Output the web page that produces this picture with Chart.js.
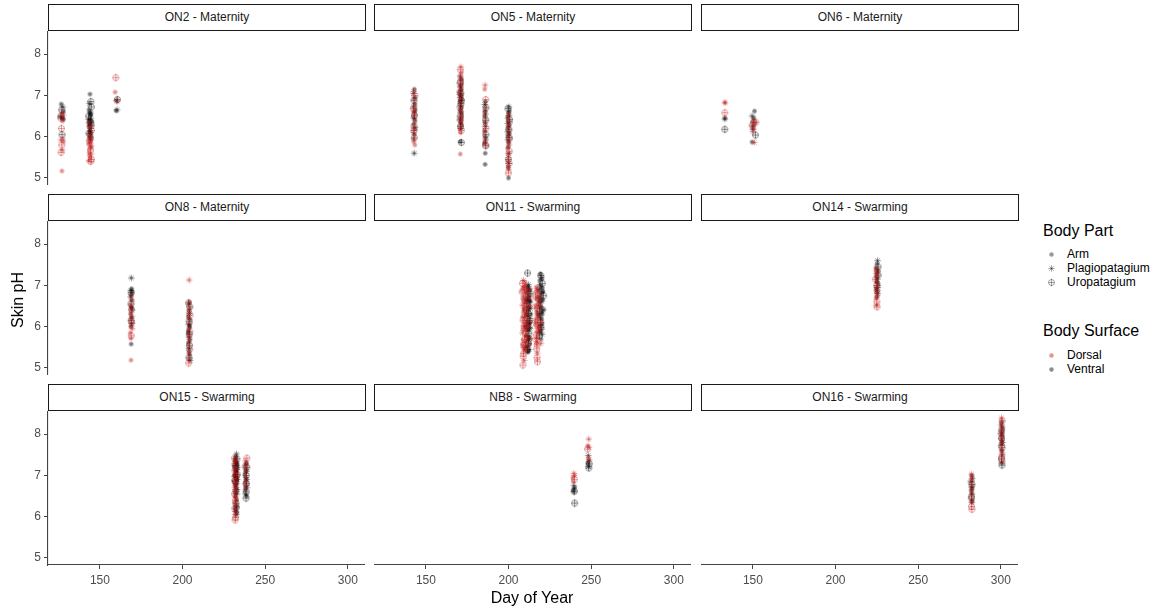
<!DOCTYPE html>
<html><head><meta charset="utf-8">
<script src="https://cdn.jsdelivr.net/npm/chart.js@4.4.1/dist/chart.umd.min.js"></script>
<style>
html,body{margin:0;padding:0;background:#fff;}
body{width:1162px;height:613px;position:relative;overflow:hidden;font-family:"Liberation Sans",Arial,sans-serif;}
.strip{position:absolute;box-sizing:border-box;border:1.6px solid #1a1a1a;background:#fff;color:#1a1a1a;font-size:12px;text-align:center;}
canvas.p{position:absolute;}
.t{position:absolute;white-space:nowrap;color:#000;}
.lg{position:absolute;white-space:nowrap;font-size:12px;color:#000;}
</style></head><body>
<script>
// ---------- data ----------
const panelTitles = ['ON2 - Maternity','ON5 - Maternity','ON6 - Maternity','ON8 - Maternity','ON11 - Swarming','ON14 - Swarming','ON15 - Swarming','NB8 - Swarming','ON16 - Swarming'];
const xTicks = [150,200,250,300];
const yTicks = [5,6,7,8];
const xRange = [118.6,310.4];
const yRange = [4.83,8.56];
const partNames = {A:'Arm',P:'Plagiopatagium',U:'Uropatagium'};
const surfaceNames = ['Dorsal','Ventral'];

const on2D = [[127.0,6.58,'A'],[127.8,6.52,'P'],[126.3,6.45,'U'],[127.4,6.38,'A'],[126.7,6.2,'U'],[127.6,5.95,'A'],[126.4,5.92,'P'],[127.9,5.88,'A'],[126.9,5.8,'U'],[127.2,5.68,'P'],[126.5,5.62,'U'],[127.0,5.17,'A'],
[143.2,6.35,'A'],[144.6,6.25,'P'],[143.8,6.22,'A'],[144.9,6.15,'U'],[143.4,6.05,'A'],[144.2,5.98,'P'],[145.0,5.95,'A'],[143.6,5.9,'U'],[144.4,5.85,'A'],[143.1,5.82,'A'],[144.8,5.78,'P'],[143.9,5.72,'A'],[144.3,5.68,'U'],[143.5,5.62,'A'],[144.7,5.58,'P'],[143.7,5.55,'A'],[144.1,5.5,'A'],[144.9,5.45,'U'],[143.3,5.42,'P'],[144.5,5.4,'U'],[143.8,5.88,'A'],[144.6,5.75,'A'],
[159.6,7.43,'U'],[159.2,7.08,'A'],[160.4,6.85,'P']];
const on2V = [[126.6,6.79,'A'],[127.6,6.72,'P'],[126.9,6.65,'U'],[127.9,6.6,'A'],[126.3,6.48,'P'],[127.3,6.45,'A'],[128.0,6.42,'A'],[127.1,6.05,'U'],[126.5,6.5,'U'],
[144.0,7.03,'A'],[144.5,6.85,'U'],[143.6,6.8,'P'],[144.8,6.72,'U'],[143.4,6.65,'A'],[144.2,6.6,'P'],[143.8,6.57,'A'],[144.6,6.55,'A'],[143.2,6.5,'U'],[144.4,6.45,'P'],[143.7,6.4,'A'],[144.9,6.38,'A'],[143.5,6.33,'P'],[144.1,6.3,'A'],[144.7,6.28,'U'],[143.3,6.25,'A'],[144.3,6.2,'P'],[143.9,6.15,'A'],[144.6,6.1,'A'],[143.4,6.08,'U'],[144.0,6.05,'P'],[144.8,6.0,'A'],[143.6,5.97,'A'],[144.2,5.92,'P'],[143.8,6.12,'A'],[144.5,6.35,'U'],[143.2,6.42,'P'],[144.3,6.52,'A'],
[160.6,6.9,'U'],[160.0,6.88,'P'],[159.8,6.63,'A'],[160.4,6.65,'P']];

const on5D = [[142.6,7.1,'P'],[143.3,7.0,'U'],[142.9,6.9,'A'],[143.5,6.75,'A'],[142.4,6.68,'U'],[143.1,6.55,'A'],[142.7,6.48,'P'],[143.4,6.35,'A'],[142.8,6.25,'U'],[143.2,6.18,'A'],[142.5,6.1,'P'],[143.0,5.98,'U'],[142.7,5.88,'A'],[143.3,5.8,'A'],[142.9,6.6,'P'],
[171.2,7.69,'P'],[170.8,7.62,'U'],[171.5,7.55,'A'],[170.6,7.48,'P'],[171.3,7.4,'A'],[170.9,7.35,'U'],[171.6,7.28,'A'],[170.7,7.22,'P'],[171.1,7.12,'A'],[170.5,7.08,'U'],[171.4,6.98,'A'],[170.8,6.92,'P'],[171.2,6.82,'A'],[170.6,6.72,'U'],[171.5,6.62,'A'],[170.9,6.58,'P'],[171.3,6.48,'A'],[170.7,6.42,'U'],[171.6,6.38,'A'],[171.0,6.28,'P'],[170.6,6.2,'A'],[171.4,6.15,'U'],[170.9,6.1,'A'],[170.8,5.58,'A'],
[185.8,7.25,'P'],[185.6,7.15,'A'],[186.2,6.9,'U'],[185.5,6.6,'A'],[186.0,6.45,'P'],[185.7,6.3,'A'],[186.3,6.2,'U'],[185.4,6.1,'A'],[186.1,5.95,'P'],[185.6,5.85,'A'],[186.2,5.8,'U'],[185.9,6.7,'A'],
[200.1,6.55,'A'],[199.6,6.45,'P'],[200.5,6.35,'U'],[199.8,6.25,'A'],[200.3,6.15,'P'],[199.5,6.05,'A'],[200.6,5.95,'U'],[199.9,5.88,'A'],[200.2,5.8,'P'],[199.4,5.72,'A'],[200.4,5.65,'U'],[199.7,5.58,'A'],[200.0,5.5,'P'],[199.6,5.42,'A'],[200.3,5.35,'U'],[199.8,5.28,'A'],[200.1,5.2,'P'],[199.9,5.12,'U']];
const on5V = [[143.0,7.15,'A'],[142.6,7.05,'P'],[143.4,6.95,'A'],[142.8,6.88,'U'],[143.2,6.8,'A'],[142.5,6.72,'P'],[143.5,6.65,'A'],[142.9,6.6,'A'],[143.1,6.52,'U'],[142.7,6.45,'P'],[143.3,6.4,'A'],[142.6,6.3,'A'],[143.4,6.22,'P'],[142.8,6.15,'U'],[143.0,6.05,'A'],[142.7,5.95,'P'],[142.9,5.6,'P'],
[171.0,7.45,'P'],[171.4,7.38,'A'],[170.7,7.3,'U'],[171.2,7.25,'A'],[170.9,7.2,'P'],[171.5,7.15,'A'],[170.6,7.1,'A'],[171.1,7.05,'U'],[171.3,7.0,'A'],[170.8,6.95,'P'],[171.6,6.9,'A'],[170.7,6.85,'A'],[171.2,6.8,'U'],[170.9,6.75,'P'],[171.4,6.7,'A'],[170.6,6.65,'A'],[171.1,6.6,'P'],[171.5,6.55,'A'],[170.8,6.5,'U'],[171.3,6.45,'A'],[170.7,6.4,'P'],[171.0,6.35,'A'],[171.4,6.3,'A'],[170.9,6.25,'U'],[171.2,6.2,'P'],[170.8,5.88,'A'],[171.4,5.86,'U'],[170.6,7.02,'P'],[171.5,6.88,'U'],
[186.0,6.85,'A'],[185.6,6.78,'P'],[186.3,6.7,'U'],[185.8,6.62,'A'],[186.1,6.55,'P'],[185.5,6.5,'A'],[186.2,6.4,'U'],[185.7,6.35,'A'],[186.0,6.25,'P'],[185.6,6.15,'A'],[186.3,6.05,'U'],[185.8,6.0,'A'],[186.1,5.92,'P'],[185.5,5.85,'A'],[186.2,5.78,'U'],[185.9,5.6,'A'],[185.8,5.33,'A'],
[200.2,6.72,'P'],[199.7,6.68,'U'],[200.5,6.62,'A'],[199.9,6.58,'A'],[200.3,6.52,'P'],[199.5,6.48,'A'],[200.6,6.42,'U'],[200.0,6.38,'A'],[199.6,6.32,'P'],[200.4,6.28,'A'],[199.8,6.22,'A'],[200.2,6.18,'U'],[199.5,6.12,'P'],[200.5,6.08,'A'],[199.9,6.02,'A'],[200.3,5.98,'U'],[199.7,5.92,'P'],[200.1,5.85,'A'],[199.8,5.75,'A'],[200.2,5.6,'P'],[199.9,5.45,'U'],[200.1,5.35,'P'],[199.8,5.25,'A'],[200.0,5.0,'A']];

const on6D = [[133.0,6.83,'A'],[133.2,6.82,'P'],[133.0,6.58,'U'],[150.0,6.38,'A'],[151.0,6.33,'P'],[149.5,6.28,'U'],[150.5,6.2,'A'],[150.0,6.12,'P'],[150.8,5.86,'P'],[151.8,6.35,'U']];
const on6V = [[133.1,6.45,'A'],[133.0,6.43,'P'],[133.0,6.18,'U'],[151.0,6.62,'A'],[149.5,6.5,'P'],[150.5,6.45,'A'],[149.8,6.25,'P'],[150.0,6.18,'P'],[151.5,6.04,'U'],[149.5,5.87,'A'],[150.5,6.35,'U']];

const on8D = [[168.8,6.75,'A'],[169.3,6.62,'P'],[168.5,6.52,'A'],[169.1,6.42,'U'],[168.7,6.35,'A'],[169.4,6.25,'P'],[168.6,6.18,'A'],[169.2,6.1,'U'],[168.9,6.02,'A'],[169.5,5.95,'P'],[168.4,5.85,'A'],[169.0,5.78,'U'],[168.7,5.72,'A'],[168.8,5.19,'A'],
[204.0,7.13,'P'],[203.6,6.58,'U'],[204.3,6.45,'A'],[203.8,6.35,'P'],[204.5,6.28,'U'],[203.5,6.2,'A'],[204.1,6.08,'P'],[203.7,5.95,'A'],[204.4,5.88,'U'],[203.9,5.78,'A'],[204.2,5.7,'P'],[203.6,5.58,'A'],[204.3,5.45,'U'],[203.8,5.35,'A'],[204.0,5.22,'P'],[203.7,5.12,'U']];
const on8V = [[169.0,7.18,'P'],[169.2,6.92,'A'],[168.7,6.88,'P'],[169.4,6.85,'A'],[168.9,6.82,'U'],[169.1,6.78,'A'],[168.6,6.72,'P'],[169.3,6.65,'A'],[168.8,6.55,'U'],[169.0,6.48,'A'],[169.4,6.4,'P'],[168.7,6.3,'A'],[169.2,6.22,'A'],[168.9,6.15,'U'],[169.3,6.08,'P'],[168.8,6.0,'A'],[168.9,5.58,'A'],[169.1,6.45,'A'],
[204.1,6.6,'A'],[203.7,6.55,'P'],[204.4,6.48,'U'],[203.9,6.4,'A'],[204.2,6.32,'P'],[203.6,6.25,'A'],[204.5,6.18,'A'],[204.0,6.12,'U'],[203.8,6.05,'P'],[204.3,5.98,'A'],[203.5,5.9,'A'],[204.1,5.82,'U'],[203.9,5.75,'P'],[204.4,5.68,'A'],[203.7,5.62,'A'],[204.2,5.55,'U'],[203.8,5.48,'P'],[204.0,5.4,'A'],[204.3,5.32,'A'],[203.9,5.25,'U'],[204.5,5.18,'P'],[204.2,6.02,'A'],[203.6,5.85,'A']];

const on11D = [[209.0,7.12,'P'],[208.4,7.05,'U'],[210.2,7.0,'A'],[208.8,6.95,'A'],[209.6,6.9,'P'],[208.2,6.84,'U'],[210.5,6.8,'A'],[209.1,6.74,'P'],[208.6,6.68,'A'],[209.9,6.62,'U'],[211.0,6.57,'A'],[208.3,6.52,'P'],[209.4,6.46,'A'],[210.6,6.41,'U'],[208.9,6.35,'A'],[209.8,6.3,'P'],[208.5,6.24,'A'],[211.3,6.19,'U'],[209.2,6.13,'A'],[210.1,6.08,'P'],[208.7,6.02,'A'],[209.5,5.96,'U'],[210.8,5.91,'A'],[208.4,5.85,'P'],[209.9,5.8,'A'],[211.5,5.74,'U'],[208.8,5.68,'A'],[210.3,5.62,'P'],[209.3,5.56,'U'],[208.6,5.5,'A'],[210.0,5.44,'P'],[209.1,5.36,'U'],[208.9,5.28,'U'],[209.4,5.18,'P'],[208.7,5.07,'U'],[212.5,6.9,'P'],[213.2,6.5,'A'],[212.0,6.1,'U'],[213.6,5.7,'A'],[212.7,6.7,'A'],
[209.7,6.98,'A'],[208.9,6.88,'U'],[210.4,6.71,'P'],[209.3,6.6,'A'],[210.9,6.33,'A'],[209.6,6.22,'P'],[208.8,6.16,'U'],[210.5,5.99,'A'],[209.0,5.92,'P'],[210.6,5.77,'A'],[209.7,5.7,'U'],[208.5,5.58,'A'],[210.2,5.52,'P'],[209.6,5.42,'A'],[210.8,6.5,'U'],[209.2,6.42,'A'],[211.8,6.0,'P'],[212.2,5.55,'A'],[211.4,6.85,'U'],[210.0,7.08,'A'],
[217.2,6.92,'P'],[216.5,6.84,'A'],[217.8,6.76,'U'],[216.8,6.68,'A'],[218.5,6.6,'P'],[216.3,6.52,'A'],[217.5,6.44,'U'],[216.9,6.36,'A'],[218.2,6.28,'P'],[216.6,6.2,'A'],[217.4,6.12,'U'],[216.2,6.04,'A'],[218.0,5.96,'P'],[217.1,5.88,'A'],[216.7,5.8,'U'],[217.6,5.72,'A'],[216.9,5.64,'P'],[217.3,5.56,'U'],[217.0,5.46,'U'],[217.4,5.36,'P'],[217.2,5.25,'U'],[217.5,5.15,'U'],[219.5,6.5,'A'],[220.0,6.1,'P'],[219.0,5.9,'A'],
[216.8,6.96,'A'],[217.6,6.88,'P'],[216.4,6.72,'U'],[217.9,6.55,'A'],[216.7,6.46,'P'],[217.2,6.3,'A'],[217.8,6.16,'U'],[216.5,6.1,'P'],[217.3,5.98,'A'],[217.9,5.84,'A'],[216.6,5.72,'P'],[217.1,5.6,'A'],[218.6,6.7,'U'],[218.8,6.02,'A'],[219.6,5.6,'P']];
const on11V = [[211.5,7.3,'U'],[211.8,6.98,'A'],[212.6,6.92,'P'],[211.2,6.86,'A'],[213.0,6.8,'U'],[212.2,6.74,'A'],[211.6,6.68,'P'],[212.9,6.62,'A'],[211.0,6.56,'U'],[212.4,6.5,'A'],[213.3,6.44,'P'],[211.7,6.38,'A'],[212.1,6.32,'U'],[210.8,6.26,'A'],[212.8,6.2,'P'],[211.4,6.14,'A'],[212.5,6.08,'A'],[211.1,6.02,'U'],[213.1,5.96,'P'],[211.9,5.9,'A'],[212.3,5.84,'U'],[210.9,5.78,'A'],[212.7,5.72,'P'],[211.5,5.66,'A'],[212.0,5.6,'U'],[211.2,5.52,'A'],[212.4,5.45,'P'],[211.7,5.38,'A'],[210.5,6.65,'P'],[210.3,6.0,'A'],[213.5,6.3,'A'],[210.6,5.5,'P'],
[212.0,7.02,'P'],[211.4,6.95,'A'],[212.8,6.88,'A'],[211.9,6.79,'U'],[212.5,6.65,'A'],[211.3,6.6,'P'],[212.1,6.45,'A'],[211.6,6.28,'P'],[212.9,6.15,'U'],[211.8,6.05,'A'],[212.6,5.98,'P'],[211.3,5.92,'A'],[212.2,5.76,'A'],[211.9,5.69,'P'],[212.7,5.58,'A'],[211.4,5.45,'U'],[212.1,5.41,'A'],[213.0,6.1,'A'],[210.7,6.4,'U'],[213.2,6.6,'P'],
[219.2,7.28,'A'],[219.8,7.2,'P'],[218.9,7.12,'A'],[220.4,7.05,'U'],[219.5,6.98,'A'],[218.6,6.9,'P'],[220.1,6.82,'A'],[219.0,6.74,'U'],[220.6,6.66,'A'],[219.3,6.58,'P'],[218.8,6.5,'A'],[220.3,6.42,'U'],[219.7,6.34,'A'],[218.5,6.26,'P'],[220.0,6.18,'A'],[219.4,6.1,'U'],[221.0,6.4,'P'],[218.9,6.02,'A'],[219.9,5.94,'P'],[219.2,5.86,'A'],[218.7,5.78,'U'],[219.6,5.7,'A'],[220.8,6.85,'A'],[218.3,6.62,'P'],[221.2,6.75,'U'],[218.0,6.3,'A'],
[219.5,7.24,'U'],[220.2,7.15,'A'],[219.1,7.02,'P'],[220.5,6.94,'A'],[219.7,6.86,'U'],[219.0,6.7,'A'],[220.2,6.62,'P'],[219.5,6.46,'A'],[218.8,6.38,'U'],[220.4,6.3,'A'],[219.3,6.22,'P'],[220.1,6.05,'A'],[219.6,5.98,'U'],[218.9,5.9,'A'],[220.3,5.82,'P']];

const on14D = [[224.3,7.42,'A'],[225.2,7.35,'U'],[224.6,7.28,'P'],[225.5,7.22,'A'],[224.1,7.15,'U'],[224.9,7.08,'A'],[225.6,7.0,'P'],[224.4,6.95,'A'],[225.1,6.88,'U'],[224.7,6.82,'A'],[225.3,6.75,'P'],[224.5,6.68,'A'],[225.0,6.6,'U'],[224.8,6.52,'P'],[225.1,6.48,'U']];
const on14V = [[225.4,7.6,'P'],[225.1,7.52,'A'],[225.7,7.45,'U'],[224.9,7.4,'A'],[225.5,7.35,'P'],[225.0,7.3,'A'],[225.8,7.25,'U'],[224.7,7.2,'A'],[225.3,7.15,'P'],[224.9,7.1,'A'],[225.6,7.05,'A'],[225.0,7.0,'U'],[225.4,6.95,'P'],[224.8,6.9,'A'],[225.2,6.85,'A'],[225.5,6.8,'P'],[225.0,6.72,'A']];

const on15D = [[231.4,7.42,'U'],[232.0,7.36,'A'],[231.2,7.28,'P'],[232.6,7.2,'A'],[231.7,7.12,'U'],[232.3,7.05,'A'],[231.3,6.98,'P'],[232.8,6.92,'A'],[231.9,6.85,'U'],[232.4,6.78,'A'],[231.6,6.7,'P'],[232.1,6.62,'A'],[231.5,6.55,'U'],[232.5,6.45,'A'],[231.8,6.35,'P'],[232.2,6.28,'A'],[231.6,6.2,'U'],[232.4,6.12,'A'],[231.9,6.05,'P'],[232.1,5.98,'U'],[231.8,5.92,'U'],
[232.2,7.33,'P'],[231.8,7.16,'A'],[232.6,7.0,'U'],[231.5,6.82,'A'],[232.3,6.66,'P'],[231.7,6.5,'A'],[232.0,6.4,'U'],
[238.9,7.42,'U'],[238.2,7.35,'P'],[238.7,7.28,'A'],[237.9,7.2,'U'],[238.5,7.12,'A'],[238.1,7.0,'P'],[238.8,6.9,'A'],[238.3,6.8,'U'],[238.0,6.7,'A']];
const on15V = [[232.6,7.52,'P'],[232.2,7.45,'A'],[232.9,7.4,'U'],[231.8,7.35,'A'],[232.5,7.3,'P'],[233.0,7.26,'A'],[231.6,7.22,'A'],[232.3,7.18,'U'],[232.8,7.14,'P'],[231.9,7.1,'A'],[232.6,7.06,'A'],[233.1,7.02,'U'],[231.7,6.98,'P'],[232.4,6.94,'A'],[232.9,6.9,'A'],[232.0,6.85,'U'],[232.7,6.8,'P'],[231.8,6.75,'A'],[232.5,6.7,'A'],[232.2,6.62,'U'],[232.8,6.55,'P'],[232.0,6.48,'A'],[232.6,6.4,'A'],[232.3,6.32,'U'],[232.7,6.25,'P'],[232.1,6.18,'A'],[232.9,6.1,'A'],[232.5,6.05,'P'],[233.2,7.2,'P'],[231.5,7.0,'A'],[233.0,6.9,'P'],
[232.0,7.4,'P'],[232.7,7.32,'A'],[231.9,7.24,'U'],[232.4,7.12,'A'],[232.1,7.03,'P'],[232.8,6.96,'A'],[231.6,6.88,'U'],[232.3,6.78,'A'],[232.9,6.66,'P'],[232.1,6.58,'A'],[232.5,6.22,'U'],[231.9,6.13,'P'],
[238.6,7.3,'A'],[238.0,7.25,'P'],[238.9,7.2,'U'],[238.3,7.15,'A'],[238.7,7.1,'P'],[237.9,7.05,'A'],[238.5,7.0,'U'],[238.2,6.95,'A'],[238.8,6.9,'P'],[238.1,6.85,'A'],[238.6,6.8,'U'],[238.3,6.75,'A'],[238.9,6.7,'P'],[238.0,6.65,'A'],[238.5,6.6,'U'],[238.2,6.55,'P'],[238.7,6.5,'A'],[238.4,6.45,'U']];

const nb8D = [[239.5,7.05,'P'],[240.0,7.0,'P'],[239.0,6.95,'A'],[239.8,6.9,'U'],[239.3,6.85,'A'],
[248.5,7.88,'P'],[248.0,7.72,'A'],[248.6,7.68,'P'],[247.8,7.64,'U'],[248.3,7.42,'A'],[248.8,7.38,'P']];
const nb8V = [[239.5,6.75,'P'],[240.0,6.7,'A'],[239.2,6.65,'A'],[239.8,6.62,'U'],[239.5,6.6,'P'],[240.0,6.33,'U'],
[248.2,7.48,'P'],[248.5,7.35,'A'],[248.0,7.3,'A'],[248.8,7.28,'U'],[248.3,7.22,'P'],[248.6,7.18,'U']];

const on16D = [[282.2,7.03,'P'],[282.6,6.95,'A'],[282.0,6.85,'U'],[282.7,6.75,'A'],[282.3,6.65,'P'],[282.5,6.55,'A'],[282.1,6.45,'U'],[282.6,6.35,'A'],[282.3,6.25,'U'],[282.5,6.18,'U'],
[300.4,8.39,'P'],[300.8,8.32,'U'],[300.3,8.25,'A'],[300.9,8.18,'P'],[300.5,8.1,'A'],[300.2,8.02,'U'],[300.7,7.95,'A'],[300.4,7.88,'P'],[300.9,7.8,'A'],[300.3,7.72,'U'],[300.6,7.62,'A'],[300.8,7.55,'P'],[300.5,7.45,'U'],[300.7,7.35,'U']];
const on16V = [[282.4,7.0,'A'],[282.7,6.92,'P'],[282.1,6.85,'A'],[282.5,6.78,'U'],[282.3,6.72,'P'],[282.6,6.68,'A'],[282.2,6.62,'A'],[282.5,6.55,'P'],[282.3,6.48,'U'],[282.6,6.4,'A'],[282.4,6.35,'P'],
[300.6,8.3,'A'],[300.3,8.22,'P'],[300.9,8.15,'A'],[300.5,8.1,'U'],[300.7,8.05,'A'],[300.2,8.0,'P'],[300.8,7.95,'A'],[300.4,7.9,'U'],[300.6,7.85,'A'],[300.9,7.8,'P'],[300.3,7.75,'A'],[300.7,7.68,'U'],[300.5,7.6,'A'],[300.8,7.5,'P'],[300.4,7.4,'U'],[300.6,7.3,'P'],[300.7,7.25,'U']];

const panelData = [[on2D,on2V],[on5D,on5V],[on6D,on6V],[on8D,on8V],[on11D,on11V],[on14D,on14V],[on15D,on15V],[nb8D,nb8V],[on16D,on16V]];

// ---------- style / layout ----------
const FONT = '"Liberation Sans", Arial, sans-serif';
const surfaceColors = ['rgba(190,15,15,0.45)','rgba(0,0,0,0.5)'];
const AX = '#444';
const colLeft = [48,374,701], panelW = 317;
const stripTop = [4,194,384], stripH = 27, plotH = 154;

function makeMarker(part, color){
  const c = document.createElement('canvas');
  const S = part === 'A' ? 7 : 9;
  c.width = S; c.height = S;
  const g = c.getContext('2d');
  const m = S/2;
  g.strokeStyle = color; g.fillStyle = color; g.lineWidth = 0.9;
  if (part === 'A'){ g.beginPath(); g.arc(m,m,2.2,0,Math.PI*2); g.fill(); }
  else if (part === 'P'){ const r=3.2, d=r*0.7071; g.beginPath(); g.moveTo(m-r,m); g.lineTo(m+r,m); g.moveTo(m,m-r); g.lineTo(m,m+r); g.moveTo(m-d,m-d); g.lineTo(m+d,m+d); g.moveTo(m-d,m+d); g.lineTo(m+d,m-d); g.stroke(); }
  else { const r=3.0; g.beginPath(); g.arc(m,m,r,0,Math.PI*2); g.moveTo(m-r,m); g.lineTo(m+r,m); g.moveTo(m,m-r-0.8); g.lineTo(m,m+r+0.8); g.stroke(); }
  return c;
}
const parts = ['A','P','U'];
const markers = surfaceColors.map(col => parts.map(p => makeMarker(p,col)));

function el(tag, cls, style, text){
  const e = document.createElement(tag);
  if (cls) e.className = cls;
  Object.assign(e.style, style);
  if (text !== undefined) e.textContent = text;
  document.body.appendChild(e);
  return e;
}

panelTitles.forEach((title, i) => {
  const r = Math.floor(i/3), c = i%3;
  const showY = c === 0, showX = r === 2;
  el('div','strip',{left:colLeft[c]+'px',top:stripTop[r]+'px',width:(panelW+1)+'px',height:stripH+'px',lineHeight:(stripH-2)+'px'},title);
  const cv = document.createElement('canvas');
  cv.className = 'p';
  const yw = showY ? 30 : 0, xh = showX ? 30 : 0;
  const W = panelW + yw, H = plotH + xh;
  cv.width = W; cv.height = H;
  Object.assign(cv.style,{left:(colLeft[c]-yw)+'px',top:(stripTop[r]+stripH)+'px',width:W+'px',height:H+'px'});
  document.body.appendChild(cv);
  const datasets = [];
  panelData[i].forEach((arr, s) => {
    parts.forEach((p, k) => {
      datasets.push({
        label: surfaceNames[s]+' '+partNames[p],
        data: arr.filter(d => d[2] === p).map(d => ({x:d[0], y:d[1]})),
        pointStyle: markers[s][k],
        pointRadius: 3,
        showLine: false
      });
    });
  });
  const axisCommon = {
    grid:{display:true,drawOnChartArea:false,drawTicks:true,tickLength:4,color:AX,tickColor:AX,lineWidth:1},
    border:{display:true,color:AX,width:1.1},
    ticks:{color:'#4d4d4d',font:{size:12,family:FONT},padding:3,autoSkip:false,maxRotation:0}
  };
  new Chart(cv, {
    type:'scatter',
    data:{datasets},
    options:{
      responsive:false, animation:false, events:[],
      layout:{padding:0, autoPadding:false},
      plugins:{legend:{display:false},tooltip:{enabled:false}},
      scales:{
        x:Object.assign({}, axisCommon, {type:'linear',min:xRange[0],max:xRange[1],display:showX,
          ticks:Object.assign({}, axisCommon.ticks, {padding:4}),
          afterBuildTicks:s=>{s.ticks = xTicks.map(v=>({value:v}));},
          afterFit:s=>{s.height = showX ? 30 : 0; s.paddingLeft = 0; s.paddingRight = 0; s.paddingTop = 0; s.paddingBottom = 0;}}),
        y:Object.assign({}, axisCommon, {type:'linear',min:yRange[0],max:yRange[1],display:showY,
          afterBuildTicks:s=>{s.ticks = yTicks.map(v=>({value:v}));},
          afterFit:s=>{s.width = showY ? 30 : 0; s.paddingTop = 0; s.paddingBottom = 0; s.paddingLeft = 0; s.paddingRight = 0;}})
      }
    }
  });
});

// axis titles
el('div','t',{left:'532px',top:'598px',fontSize:'16px',transform:'translate(-50%,-50%)'},'Day of Year');
el('div','t',{left:'18px',top:'300px',fontSize:'16px',transform:'translate(-50%,-50%) rotate(-90deg)'},'Skin pH');

// legend
function legendKey(marker, x, y){
  const c = document.createElement('canvas');
  c.width = marker.width; c.height = marker.height;
  c.getContext('2d').drawImage(marker,0,0);
  Object.assign(c.style,{position:'absolute',left:(x-marker.width/2)+'px',top:(y-marker.height/2)+'px'});
  document.body.appendChild(c);
}
el('div','t',{left:'1043px',top:'231px',fontSize:'16px',transform:'translateY(-50%)'},'Body Part');
const legendGray = parts.map(p => makeMarker(p,'rgba(0,0,0,0.4)'));
['A','P','U'].forEach((p,k) => {
  const y = 254 + k*14;
  legendKey(legendGray[k], 1051, y);
  el('div','lg',{left:'1067px',top:y+'px',transform:'translateY(-50%)'},partNames[p]);
});
el('div','t',{left:'1043px',top:'331px',fontSize:'16px',transform:'translateY(-50%)'},'Body Surface');
surfaceNames.forEach((sn,s) => {
  const y = 355 + s*14;
  legendKey(makeMarker('A', s===0 ? 'rgba(190,15,15,0.45)' : 'rgba(0,0,0,0.45)'), 1051, y);
  el('div','lg',{left:'1067px',top:y+'px',transform:'translateY(-50%)'},sn);
});
</script>
</body></html>
